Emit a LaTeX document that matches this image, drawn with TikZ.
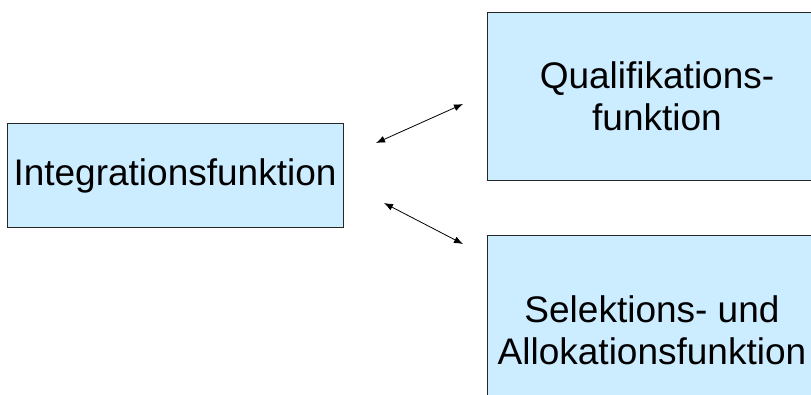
\documentclass[tikz,border=0pt]{standalone}
\usepackage{fontspec}
\setmainfont{Liberation Sans}
\usetikzlibrary{arrows.meta}
\definecolor{boxblue}{HTML}{CCECFF}
\begin{document}
\begin{tikzpicture}[
		x=1pt, y=-1pt,
		funcbox/.style={draw=black!85, fill=boxblue, line width=0.8pt, inner sep=0pt, align=center, font=\fontsize{37}{42}\selectfont},
		link/.style={{Latex[length=9pt,width=7pt]}-{Latex[length=9pt,width=7pt]}, line width=0.8pt},
	]
		\clip (0,0) rectangle (811,394);
		\node[funcbox, minimum width=336pt, minimum height=104pt] (integration) at (175,175.5) {Integrationsfunktion};
		\node[funcbox, minimum width=340pt, minimum height=168pt] (qualifikation) at (657,96) {Qualifikations-\\funktion};
		\node[funcbox, minimum width=330pt, minimum height=190pt] (selektion) at (652,330) {Selektions- und\\Allokationsfunktion};
		
		\coordinate (top a) at (376,143);
		\coordinate (top b) at (463,104);
		\coordinate (bot a) at (384,203);
		\coordinate (bot b) at (463,244);
		\draw[link] (top a) -- (top b);
		\draw[link] (bot a) -- (bot b);
	\end{tikzpicture}
\end{document}
